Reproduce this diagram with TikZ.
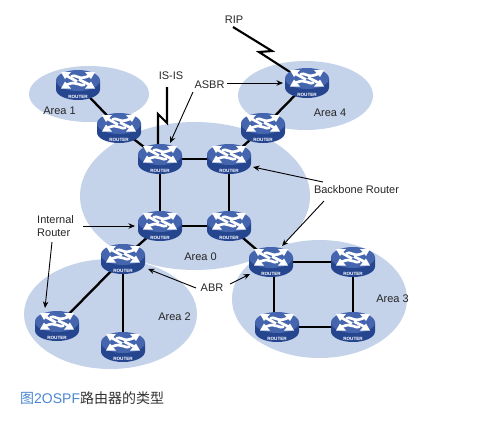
\documentclass[tikz,border=0pt]{standalone}
\usepackage{fontspec}
\setmainfont{Liberation Sans}
\newfontfamily\cjkfont{Noto Sans CJK SC}
\usetikzlibrary{arrows.meta}
\definecolor{areablue}{HTML}{C4D2EA}
\definecolor{routertop}{HTML}{4565AE}
\definecolor{routerside}{HTML}{26458F}
\definecolor{capblue}{HTML}{4A86D0}
\definecolor{capgray}{HTML}{333333}
\tikzset{
  x=1pt,y=-1pt,
  areashape/.style={fill=areablue,draw=none},
  routerspot/.style={inner sep=0pt,minimum size=0pt,outer sep=0pt},
  link/.style={draw=black,line width=2.3pt},
  bolt/.style={draw=black,line width=2.1pt,line join=miter},
  pointer/.style={draw=black,line width=0.9pt,-{Stealth[length=6.5pt,width=5.5pt]}},
  lbl/.style={font=\fontsize{11}{13}\selectfont,text=black!85,inner sep=0pt},
  glyphshaft/.style={draw=white,line width=2.7pt},
  routerglyph/.pic={
    \fill[routerside] (-22,-4.5) -- (-22,4.5) arc[start angle=180,end angle=360,x radius=22,y radius=-10.5] -- (22,-4.5) -- cycle;
    \fill[routertop] (0,-4.5) ellipse [x radius=22,y radius=10.5];
    \fill[white] (-17,-13) -- (-7,-13) -- (-13,-6) -- cycle;
    \fill[white] (17,-13) -- (7,-13) -- (13,-6) -- cycle;
    \fill[white] (-17,3.5) -- (-7,3.5) -- (-13,-3.5) -- cycle;
    \fill[white] (17,3.5) -- (7,3.5) -- (13,-3.5) -- cycle;
    \draw[glyphshaft] (-12,-9.5) -- (-1,-3.5);
    \draw[glyphshaft] (12,-9.5) .. controls (6,-7) and (3,-6.5) .. (0,-8) .. controls (-3,-9.5) and (-5,-9.5) .. (-7,-8.5);
    \draw[glyphshaft] (-12,0) .. controls (-6,-2.5) and (-3,-2.5) .. (0,-1) .. controls (3,0.5) and (5,0.5) .. (7,-0.5);
    \draw[glyphshaft] (12,0) -- (1,-5.5);
    \node[inner sep=0pt,text=white,font=\bfseries\fontsize{4.6}{5}\selectfont] (txt) at (0,11.5) {ROUTER};
  }
}
\begin{document}
\begin{tikzpicture}
\useasboundingbox (0,0) rectangle (486,421);
% areas
\fill[areashape] (89,94) ellipse [x radius=60,y radius=28];
\fill[areashape] (305.5,95.5) ellipse [x radius=67.5,y radius=34.5];
\fill[areashape] (195,196) ellipse [x radius=115,y radius=74];
\fill[areashape] (110.5,314) ellipse [x radius=86.5,y radius=55];
\fill[areashape] (319.5,299) ellipse [x radius=87.5,y radius=59];
% router anchor points
\node[routerspot] (r1) at (78,85) {};
\node[routerspot] (r2) at (119,128) {};
\node[routerspot] (r3) at (160,159) {};
\node[routerspot] (r4) at (229,159) {};
\node[routerspot] (r5) at (160,226) {};
\node[routerspot] (r6) at (229,226) {};
\node[routerspot] (r7) at (263,128) {};
\node[routerspot] (r8) at (307,83) {};
\node[routerspot] (r9) at (123,259) {};
\node[routerspot] (r10) at (57,326) {};
\node[routerspot] (r11) at (123,347) {};
\node[routerspot] (r12) at (271,262) {};
\node[routerspot] (r13) at (353,262) {};
\node[routerspot] (r14) at (277,327) {};
\node[routerspot] (r15) at (353,327) {};
% links
\draw[link] (r1) -- (r2);
\draw[link] (r2) -- (r3);
\draw[link] (r3) -- (r4);
\draw[link] (r3) -- (r5);
\draw[link] (r4) -- (r6);
\draw[link] (r5) -- (r6);
\draw[link] (r4) -- (r7);
\draw[link] (r7) -- (r8);
\draw[link] (r5) -- (r9);
\draw[link] (r9) -- (r10);
\draw[link] (r9) -- (r11);
\draw[link] (r6) -- (r12);
\draw[link] (r12) -- (r13);
\draw[link] ([xshift=3pt]r12.center) -- ([xshift=-3pt]r14.center);
\draw[link] (r13) -- (r15);
\draw[link] (r14) -- (r15);
% labels
\node[lbl] (lrip) at (234,20) {RIP};
\node[lbl] (lisis) at (171,76) {IS-IS};
\node[lbl] (lasbr) at (209.5,85) {ASBR};
\node[lbl] (la1) at (59.5,111) {Area 1};
\node[lbl] (la4) at (330,113) {Area 4};
\node[lbl] (la0) at (200.5,257) {Area 0};
\node[lbl] (la2) at (174.5,317) {Area 2};
\node[lbl] (la3) at (392.5,299) {Area 3};
\node[lbl] (lbb) at (356.5,190) {Backbone Router};
\node[lbl] (labr) at (212,288) {ABR};
\node[lbl,align=left,anchor=west] (lint) at (37,226.5) {Internal\\Router};
% serial links
\coordinate (ripstart) at (233,27);
\coordinate (ripa) at (272,51);
\coordinate (ripb) at (259,52);
\coordinate (isisstart) at (167,87);
\coordinate (isisa) at (167,123);
\coordinate (isisb) at (158,114);
\draw[bolt] (ripstart) -- (ripa) -- (ripb) -- (r8);
\draw[bolt] (isisstart) -- (isisa) -- (isisb) -- ([shift={(-2,-8)}]r3.center);
% routers
\foreach \r in {r1,r2,r3,r4,r5,r6,r7,r8,r9,r10,r11,r12,r13,r14,r15}
  \pic (\r g) at (\r) {routerglyph};
% pointers
\coordinate (pa) at (193,92);
\coordinate (pb) at (227,83);
\coordinate (pc) at (323,182);
\coordinate (pd) at (324,201);
\coordinate (pe) at (83,226);
\coordinate (pf) at (52,242);
\coordinate (pg) at (196,288);
\coordinate (ph) at (230,284);
\draw[pointer] (pa) -- ([shift={(10,-16)}]r3.center);
\draw[pointer] (pb) -- ([shift={(-24,0)}]r8.center);
\draw[pointer] (pc) -- ([shift={(24,8)}]r4.center);
\draw[pointer] (pd) -- ([shift={(11,-16)}]r12.center);
\draw[pointer] (pe) -- ([shift={(-25,0)}]r5.center);
\draw[pointer] (pf) -- ([shift={(-12,-18)}]r10.center);
\draw[pointer] (pg) -- ([shift={(25,10)}]r9.center);
\draw[pointer] (ph) -- ([shift={(-21,12)}]r12.center);
% caption
\node[anchor=base west,inner sep=0pt,font=\fontsize{14}{16}\selectfont] (cap) at (20,403)
  {\textcolor{capblue}{{\cjkfont 图}2OSPF}\textcolor{capgray}{\cjkfont 路由器的类型}};
\end{tikzpicture}
\end{document}
